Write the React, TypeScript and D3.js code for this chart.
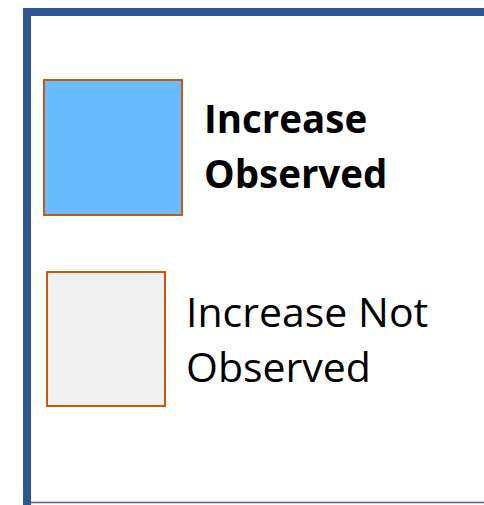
import React, { useEffect, useRef } from 'react';
import * as d3 from 'd3';

// legend entries
const labels = [['Increase', 'Observed'], ['Increase Not', 'Observed']];
const fills = ['#69BCFF', '#F0F0F0'];
const boldFlags = [true, false];

const width = 484;
const height = 505;

export default function App() {
  const ref = useRef<SVGSVGElement>(null);

  useEffect(() => {
    const svg = d3.select(ref.current);
    svg.selectAll('*').remove();

    const frameColor = '#2F5597';
    const strokeColor = '#C55A11';

    // frame: top + left heavy, thin bottom
    svg.append('path')
      .attr('d', `M31,12 H${width} M27,8 V${height}`)
      .attr('stroke', frameColor)
      .attr('stroke-width', 8)
      .attr('fill', 'none');
    svg.append('line')
      .attr('x1', 31).attr('x2', width)
      .attr('y1', 502.5).attr('y2', 502.5)
      .attr('stroke', '#4A64A0')
      .attr('stroke-width', 1.5);

    const boxes = [
      { x: 43, y: 79, w: 140, h: 137, tx: 204, ty: 133 },
      { x: 46, y: 271, w: 120, h: 136, tx: 186, ty: 327 },
    ];

    const items = svg.selectAll('g.item')
      .data(labels)
      .enter()
      .append('g')
      .attr('class', 'item');

    items.append('rect')
      .attr('x', (d, i) => boxes[i].x + 1)
      .attr('y', (d, i) => boxes[i].y + 1)
      .attr('width', (d, i) => boxes[i].w - 2)
      .attr('height', (d, i) => boxes[i].h - 2)
      .attr('fill', (d, i) => fills[i])
      .attr('stroke', strokeColor)
      .attr('stroke-width', 2);

    items.each(function (d, i) {
      const g = d3.select(this);
      const bold = boldFlags[i];
      const text = g.append('text')
        .attr('font-family', '"Open Sans", sans-serif')
        .attr('font-size', bold ? 38.5 : 41)
        .attr('font-weight', bold ? 700 : 400)
        .attr('fill', '#000');
      d.forEach((line, j) => {
        text.append('tspan')
          .attr('x', boxes[i].tx)
          .attr('y', boxes[i].ty + j * 55)
          .text(line);
      });
    });
  }, []);

  return (
    <div style={{ position: 'absolute', left: 0, top: 0 }}>
      <svg ref={ref} width={width} height={height} style={{ display: 'block', background: '#fff' }} />
    </div>
  );
}
